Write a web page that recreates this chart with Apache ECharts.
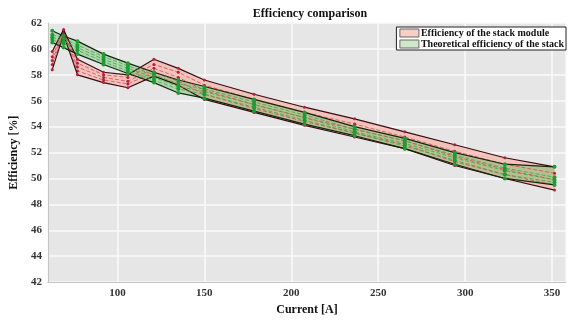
<!DOCTYPE html>
<html style="height: 100%">
<head>
<meta charset="utf-8">
<title>Efficiency comparison</title>
<script src="https://cdn.jsdelivr.net/npm/echarts@6/dist/echarts.min.js"></script>
</head>
<body style="height: 100%; margin: 0; background: #fff">
<div id="container" style="width: 572px; height: 321px"></div>
<script type="text/javascript">
// current [A] at each operating point
var currents = [62.5, 69, 77, 92, 106, 121, 135, 150, 178.6, 207.6, 236.4, 265.3, 294, 322.8, 351.4];

// efficiency of the stack module (red band)
var redUpper = [59.8, 61.5, 59.2, 58.2, 58.0, 59.2, 58.5, 57.6, 56.5, 55.5, 54.6, 53.6, 52.6, 51.6, 50.9];
var redLower = [58.4, 61.1, 58.0, 57.4, 57.0, 57.9, 57.2, 56.1, 55.1, 54.1, 53.2, 52.3, 51.0, 50.0, 49.1];
var redMid1  = [59.4, 61.4, 58.9, 58.0, 57.8, 58.8, 58.2, 57.2, 56.1, 55.1, 54.2, 53.2, 52.1, 51.1, 50.4];
var redMid2  = [59.1, 61.3, 58.6, 57.8, 57.5, 58.5, 57.8, 56.8, 55.7, 54.7, 53.8, 52.9, 51.7, 50.7, 49.9];
var redMid3  = [58.8, 61.2, 58.3, 57.6, 57.3, 58.2, 57.5, 56.5, 55.4, 54.4, 53.5, 52.6, 51.3, 50.3, 49.5];

// theoretical efficiency of the stack (green band)
var greenUpper = [61.4, 61.0, 60.6, 59.6, 58.9, 58.2, 57.6, 57.1, 56.1, 55.1, 54.0, 53.1, 52.0, 51.1, 50.9];
var greenLower = [60.5, 60.1, 59.6, 58.8, 58.1, 57.4, 56.6, 56.2, 55.2, 54.2, 53.3, 52.3, 51.1, 50.0, 49.5];
var greenMid1  = [61.1, 60.8, 60.3, 59.4, 58.7, 58.0, 57.3, 56.9, 55.9, 54.9, 53.8, 52.9, 51.8, 50.8, 50.1];
var greenMid2  = [60.9, 60.6, 60.1, 59.2, 58.5, 57.8, 57.1, 56.7, 55.7, 54.7, 53.6, 52.7, 51.6, 50.6, 49.9];
var greenMid3  = [60.7, 60.4, 59.9, 59.0, 58.3, 57.6, 56.9, 56.5, 55.5, 54.5, 53.5, 52.5, 51.4, 50.3, 49.7];

var yTicks = [42, 44, 46, 48, 50, 52, 54, 56, 58, 60, 62];
var xTicks = [100, 150, 200, 250, 300, 350];

var serif = 'Liberation Serif';
var redName = 'Efficiency of the stack module';
var greenName = 'Theoretical efficiency of the stack';

function pts(ys) {
    return currents.map(function (x, i) { return [x, ys[i]]; });
}

// filled band between lower and upper, one polygon through the axes
function band(name, lo, hi, fill, z) {
    var rows = currents.map(function (x, i) { return [x, lo[i], hi[i]]; });
    return {
        name: name,
        type: 'custom',
        z: z,
        silent: true,
        itemStyle: { color: fill },
        encode: { x: 0, y: [1, 2] },
        data: rows,
        renderItem: function (params, api) {
            if (params.dataIndex !== 0) return null;
            var poly = [];
            for (var i = 0; i < rows.length; i++) poly.push(api.coord([rows[i][0], rows[i][2]]));
            for (var j = rows.length - 1; j >= 0; j--) poly.push(api.coord([rows[j][0], rows[j][1]]));
            return { type: 'polygon', shape: { points: poly }, style: { fill: fill } };
        }
    };
}

function line(ys, color, dashed, sym, symSize, width, z) {
    return {
        type: 'line',
        z: z,
        silent: true,
        data: pts(ys),
        symbol: sym ? 'circle' : 'none',
        symbolSize: symSize,
        showSymbol: !!sym,
        itemStyle: { color: sym || color },
        lineStyle: { color: color, width: width, type: dashed ? [4, 2] : 'solid' },
        animation: false
    };
}

var dom = document.getElementById('container');
var myChart = echarts.init(dom);

var option = {
    backgroundColor: '#fff',
    animation: false,
    title: {
        text: 'Efficiency comparison',
        left: 305,
        top: 3,
        textAlign: 'center',
        textStyle: { fontFamily: serif, fontWeight: 'bold', fontSize: 12, color: '#111' }
    },
    legend: {
        data: [
            { name: redName, icon: 'rect', itemStyle: { color: '#f9cfc3', borderColor: '#666', borderWidth: 1 } },
            { name: greenName, icon: 'rect', itemStyle: { color: '#cfe6ca', borderColor: '#666', borderWidth: 1 } }
        ],
        orient: 'vertical',
        right: 6,
        top: 27,
        itemWidth: 19,
        itemHeight: 8,
        itemGap: 1,
        padding: [1, 2, 1, 3],
        backgroundColor: '#fff',
        borderColor: '#222',
        borderWidth: 1,
        selectedMode: false,
        textStyle: { fontFamily: serif, fontWeight: 'bold', fontSize: 10, color: '#111', padding: [0, 0, 0, -3] }
    },
    grid: { left: 44, right: 6, top: 23, bottom: 35, show: true, backgroundColor: '#e6e6e6', borderWidth: 0 },
    xAxis: {
        type: 'value',
        min: 60,
        max: 358,
        name: 'Current [A]',
        nameLocation: 'middle',
        nameGap: 18,
        nameTextStyle: { fontFamily: serif, fontWeight: 'bold', fontSize: 12, color: '#111' },
        axisLine: { show: true, lineStyle: { color: '#c4c4c4', width: 1 } },
        axisTick: { show: false },
        axisLabel: {
            fontFamily: serif, fontWeight: 'bold', fontSize: 11, color: '#333', margin: 6,
            showMinLabel: false, showMaxLabel: false,
            formatter: function (v) { return xTicks.indexOf(v) >= 0 ? String(v) : ''; }
        },
        splitLine: { show: true, lineStyle: { color: '#fafafa', width: 1.5 } }
    },
    yAxis: {
        type: 'value',
        min: 42,
        max: 62,
        interval: 2,
        name: 'Efficiency [%]',
        nameLocation: 'middle',
        nameRotate: 90,
        nameGap: 26,
        nameTextStyle: { fontFamily: serif, fontWeight: 'bold', fontSize: 12, color: '#111' },
        axisLine: { show: true, lineStyle: { color: '#c4c4c4', width: 1 } },
        axisTick: { show: false },
        axisLabel: {
            fontFamily: serif, fontWeight: 'bold', fontSize: 11, color: '#333', margin: 6,
            formatter: function (v) { return yTicks.indexOf(v) >= 0 ? String(v) : ''; }
        },
        splitLine: { show: true, lineStyle: { color: '#fafafa', width: 1.5 } }
    },
    series: [
        band(redName, redLower, redUpper, 'rgba(255,150,130,0.45)', 2),
        band(greenName, greenLower, greenUpper, 'rgba(90,185,80,0.38)', 3),
        line(redMid1, '#d8485a', true, '#b3203a', 3, 0.8, 4),
        line(redMid2, '#d8485a', true, '#b3203a', 3, 0.8, 4),
        line(redMid3, '#d8485a', true, '#b3203a', 3, 0.8, 4),
        line(redUpper, '#3a0c12', false, '#b3203a', 3, 1.2, 5),
        line(redLower, '#3a0c12', false, '#b3203a', 3, 1.2, 5),
        line(greenMid1, '#3aa84a', true, '#1f9a35', 4, 0.8, 6),
        line(greenMid2, '#3aa84a', true, '#1f9a35', 4, 0.8, 6),
        line(greenMid3, '#3aa84a', true, '#1f9a35', 4, 0.8, 6),
        line(greenUpper, '#102810', false, '#1f9a35', 4, 1.2, 7),
        line(greenLower, '#102810', false, '#1f9a35', 4, 1.2, 7)
    ]
};

if (option && typeof option === 'object') {
    myChart.setOption(option);
}
</script>
</body>
</html>
